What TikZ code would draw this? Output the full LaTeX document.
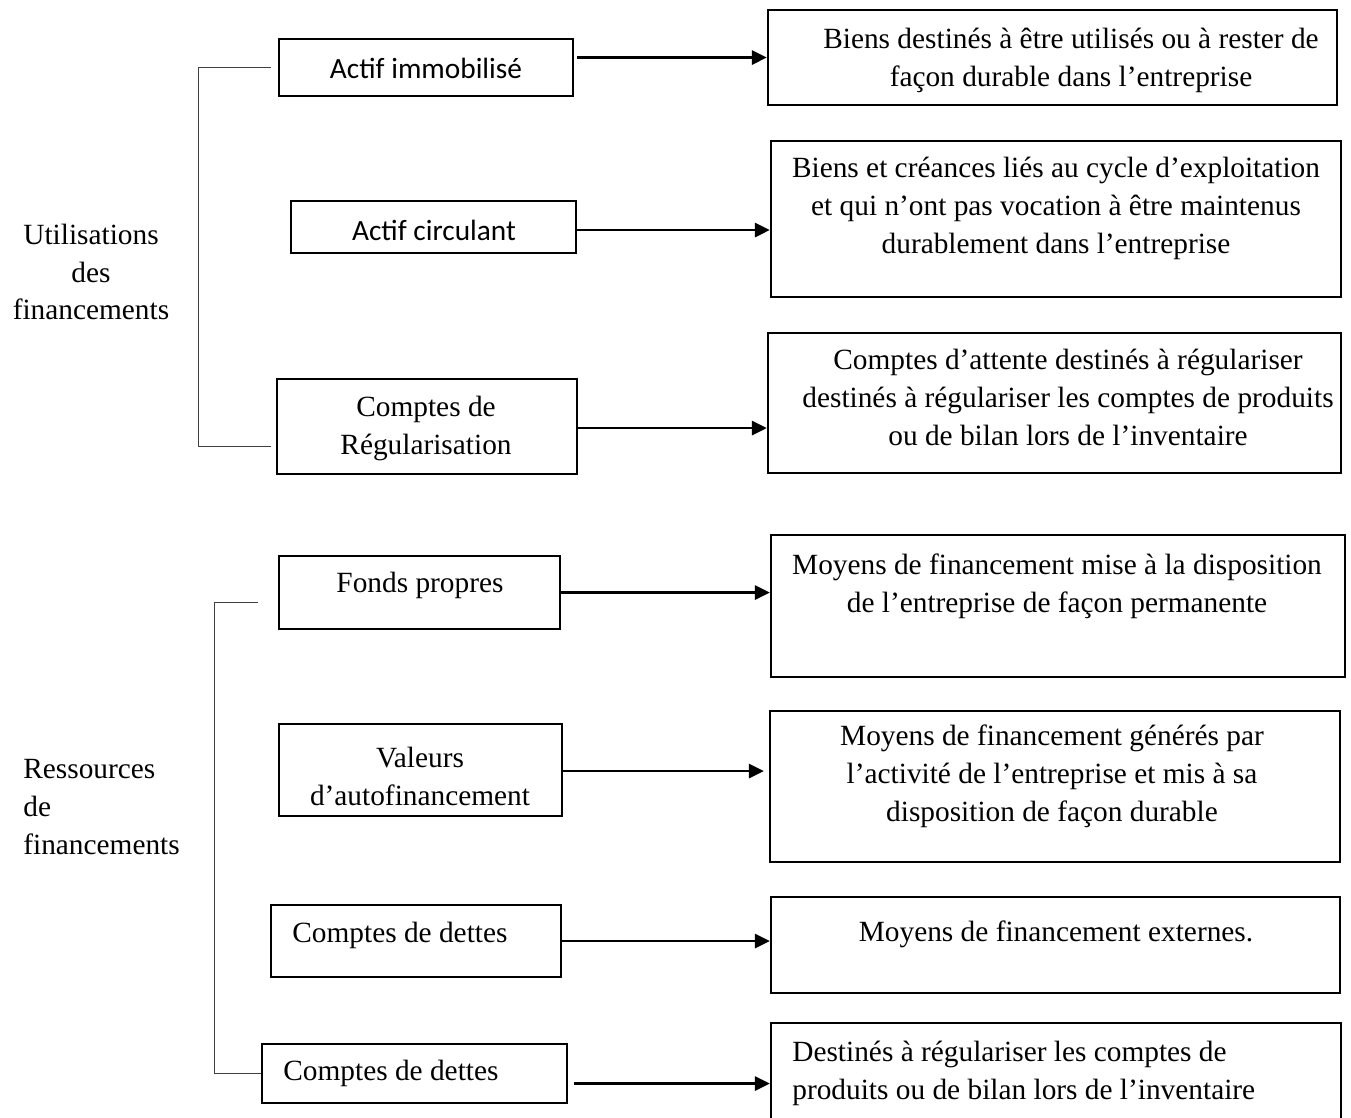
\documentclass[tikz,border=0pt]{standalone}
\usepackage{fontspec}
\setmainfont{Liberation Serif}
\newfontfamily\calibri{Carlito}
\usepackage{tikz}
\usetikzlibrary{fit,calc,arrows.meta}

\tikzset{
  box/.style={draw, line width=1.3pt, inner sep=0pt},
  txt/.style={align=center, inner sep=0pt, font=\fontsize{16.7}{21.6}\selectfont},
  sans/.style={txt, font=\calibri\fontsize{16.7}{21.6}\selectfont},
  link/.style={-{Triangle[length=8.5pt,width=8pt]}, line width=1.5pt},
  brace/.style={line width=0.6pt, draw=black!75}
}

\begin{document}
\begin{tikzpicture}[x=0.02cm, y=-0.02cm]
    \useasboundingbox (0,0) rectangle (1351,1117);
    \clip (0,0) rectangle (1351,1117);

    % Left boxes
    \node[box, fit={(279,39) (573,96)}] (l1) {};
    \node[box, fit={(291,201) (576,253)}] (l2) {};
    \node[box, fit={(277,379) (577,474)}] (l3) {};
    \node[box, fit={(279,556) (560,629)}] (l4) {};
    \node[box, fit={(279,724) (562,816)}] (l5) {};
    \node[box, fit={(271,905) (561,977)}] (l6) {};
    \node[box, fit={(262,1044) (567,1103)}] (l7) {};

    \node[sans] (tl1) at (426,68) {Actif immobilisé};
    \node[sans] (tl2) at (434,230) {Actif circulant};
    \node[txt] (tl3) at (426,428) {Comptes de\\Régularisation};
    \node[txt] (tl4) at (420,585) {Fonds propres};
    \node[txt] (tl5) at (420,776) {Valeurs\\d’autofinancement};
    \node[txt, anchor=west] (tl6) at (292,935) {Comptes de dettes};
    \node[txt, anchor=west] (tl7) at (283,1073) {Comptes de dettes};

    % Right boxes
    \node[box, fit={(768,10) (1337,105)}] (r1) {};
    \node[box, fit={(771,141) (1341,297)}] (r2) {};
    \node[box, fit={(768,333) (1341,473)}] (r3) {};
    \node[box, fit={(771,535) (1345,677)}] (r4) {};
    \node[box, fit={(770,711) (1340,862)}] (r5) {};
    \node[box, fit={(771,897) (1340,993)}] (r6) {};
    \node[box, fit={(771,1023) (1341,1140)}] (r7) {};

    \node[txt] (tr1) at (1071,60) {Biens destinés à être utilisés ou à rester de\\façon durable dans l’entreprise};
    \node[txt] (tr2) at (1056,208) {Biens et créances liés au cycle d’exploitation\\et qui n’ont pas vocation à être maintenus\\durablement dans l’entreprise};
    \node[txt] (tr3) at (1068,397) {Comptes d’attente destinés à régulariser\\destinés à régulariser les comptes de produits\\ou de bilan lors de l’inventaire};
    \node[txt] (tr4) at (1057,586) {Moyens de financement mise à la disposition\\de l’entreprise de façon permanente};
    \node[txt] (tr5) at (1052,776) {Moyens de financement générés par\\l’activité de l’entreprise et mis à sa\\disposition de façon durable};
    \node[txt] (tr6) at (1056,934) {Moyens de financement externes.};
    \node[txt, anchor=west, align=left] (tr7) at (792,1073) {Destinés à régulariser les comptes de\\produits ou de bilan lors de l’inventaire};

    % Group labels
    \node[txt] (use) at (91,272) {Utilisations\\des\\financements};
    \node[txt, anchor=west, align=left] (res) at (23,807) {Ressources\\de\\financements};

    % Brackets
    \draw[brace] ([xshift=-0.14cm]l1.west) -| ($(l3.west)+(-77,20)$) -- ($(l3.west)+(-5,20)$);
    \draw[brace] ($(l4.west)+(-20,10)$) -| ($(l7.west)+(-46,0)$) -- (l7.west);

    % Arrows
    \draw[link, shorten <=0.06cm] (l1.east |- r1.west) -- (r1.west);
    \draw[link] (l2.east |- tl2) -- (r2.west |- tl2);
    \draw[link] (l3.east |- tl3) -- (r3.west |- tl3);
    \draw[link] (l4.east) -- (l4.east -| r4.west);
    \draw[link, shorten >=0.1cm] ($(l5.east)+(0,1)$) -- ($(l5.east -| r5.west)+(0,1)$);
    \draw[link] (l6.east) -- (l6.east -| r6.west);
    \draw[link] ($(l7.east)+(6,10)$) -- ($(l7.east -| r7.west)+(0,10)$);
\end{tikzpicture}
\end{document}
